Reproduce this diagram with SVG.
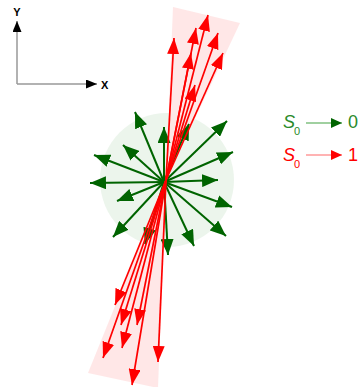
<svg xmlns="http://www.w3.org/2000/svg" width="359" height="387" viewBox="0 0 359 387">
<style>
.g{stroke:#006400;stroke-width:2;fill:none;marker-end:url(#gh)}
.r{stroke:#ff0000;stroke-width:1.7;fill:none;marker-end:url(#rh)}
.ax{stroke:#999;stroke-width:1.5;fill:none;marker-end:url(#ah)}
.lbl{font-family:"Liberation Sans",Arial,sans-serif;font-weight:bold;font-size:11px;fill:#000}
.lg{font-family:"Liberation Sans",Arial,sans-serif;font-size:18px}
.sub{font-family:"Liberation Sans",Arial,sans-serif;font-size:11px}
</style>
<defs>
<marker id="gh" markerUnits="userSpaceOnUse" markerWidth="17" markerHeight="13" refX="16" refY="6.5" orient="auto" viewBox="0 0 17 13"><path d="M0,0 L16,6.5 L0,13 z" fill="#006400"/></marker>
<marker id="rh" markerUnits="userSpaceOnUse" markerWidth="17" markerHeight="12" refX="16" refY="6" orient="auto" viewBox="0 0 17 12"><path d="M0,0 L16,6 L0,12 z" fill="#ff0000"/></marker>
<marker id="ah" markerUnits="userSpaceOnUse" markerWidth="12" markerHeight="9" refX="11" refY="4.5" orient="auto" viewBox="0 0 12 9"><path d="M0,0 L11,4.5 L0,9 z" fill="#000"/></marker>
<marker id="lgh" markerUnits="userSpaceOnUse" markerWidth="12" markerHeight="10" refX="11" refY="5" orient="auto" viewBox="0 0 12 10"><path d="M0,0 L11,5 L0,10 z" fill="#006400"/></marker>
<marker id="lrh" markerUnits="userSpaceOnUse" markerWidth="12" markerHeight="10" refX="11" refY="5" orient="auto" viewBox="0 0 12 10"><path d="M0,0 L11,5 L0,10 z" fill="#ff0000"/></marker>
</defs>
<rect width="359" height="387" fill="#fff"/>
<g id="axes">
<path class="ax" d="M17,84 L17,21"/>
<path class="ax" d="M17,84 L97,84"/>
<text class="lbl" x="17" y="16" text-anchor="middle">Y</text>
<text class="lbl" x="101" y="89">X</text>
</g>
<g id="region-0">
<circle cx="167" cy="180" r="67" fill="#eaf4ea" opacity="0.9"/>
</g>
<g id="region-1">
<polygon points="166,180 173,7 240,23" fill="#ffe4e4" opacity="0.9"/>
<polygon points="166,180 88,373 158,388" fill="#ffe4e4" opacity="0.9"/>
</g>
<g id="connectors">
<g id="green-arrows">
<path class="g" d="M164,182 L135,112"/>
<path class="g" d="M164,182 L164,127"/>
<path class="g" d="M164,182 L189,124"/>
<path class="g" d="M164,182 L227,121"/>
<path class="g" d="M164,182 L233,152"/>
<path class="g" d="M164,182 L218,180"/>
<path class="g" d="M164,182 L232,207"/>
<path class="g" d="M164,182 L226,236"/>
<path class="g" d="M164,182 L194,246"/>
<path class="g" d="M164,182 L168,255"/>
<path class="g" d="M164,182 L145,244"/>
<path class="g" d="M164,182 L113,237"/>
<path class="g" d="M164,182 L117,201"/>
<path class="g" d="M164,182 L90,183"/>
<path class="g" d="M164,182 L94,155"/>
<path class="g" d="M164,182 L123,145"/>
</g>
<g id="red-arrows">
<path class="r" d="M166,180 L174,38"/>
<path class="r" d="M166,180 L208,15"/>
<path class="r" d="M166,180 L196,28"/>
<path class="r" d="M166,180 L191,53"/>
<path class="r" d="M166,180 L218,33"/>
<path class="r" d="M166,180 L223,53"/>
<path class="r" d="M166,180 L195,85"/>
<path class="r" d="M166,180 L115,305"/>
<path class="r" d="M166,180 L121,325"/>
<path class="r" d="M166,180 L137,325"/>
<path class="r" d="M166,180 L122,348"/>
<path class="r" d="M166,180 L103,358"/>
<path class="r" d="M166,180 L158,362"/>
<path class="r" d="M166,180 L132,385"/>
</g>
</g>
<g id="legend-0">
<text class="lg" x="283" y="128" fill="#2a8a2a" font-style="italic">S</text>
<text class="sub" x="294" y="135" fill="#2a8a2a">0</text>
<path d="M306,123 L342,123" stroke="#80c080" stroke-width="1.5" marker-end="url(#lgh)"/>
<text class="lg" x="348" y="128" fill="#2a8a2a">0</text>
</g>
<g id="legend-1">
<text class="lg" x="283" y="161" fill="#ff0000" font-style="italic">S</text>
<text class="sub" x="294" y="168" fill="#ff0000">0</text>
<path d="M306,155 L342,155" stroke="#ff9a9a" stroke-width="1.5" marker-end="url(#lrh)"/>
<text class="lg" x="348" y="161" fill="#ff0000">1</text>
</g>
</svg>
